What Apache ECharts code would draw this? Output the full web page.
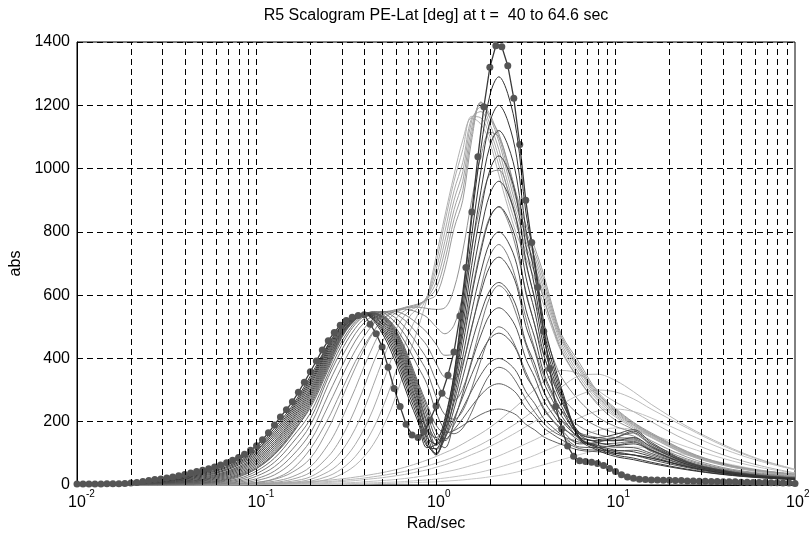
<!DOCTYPE html>
<html><head><meta charset="utf-8">
<script src="https://cdn.jsdelivr.net/npm/echarts@6/dist/echarts.min.js"></script>
<style>html,body{margin:0;padding:0;background:#fff}#chart{width:810px;height:541px}</style>
</head><body><div id="chart"></div>
<script>
// Frequency grid (Rad/sec) for the family of curves
const freq = [0.01,0.0158,0.0251,0.0398,0.0501,0.0631,0.0794,0.1,0.126,0.158,0.2,0.251,0.282,0.316,0.355,0.398,0.447,0.501,0.562,0.631,0.708,0.794,0.891,1,1.12,1.26,1.41,1.58,1.78,2,2.24,2.51,2.82,3.16,3.55,3.98,4.47,5.01,6.31,7.94,10,12.6,15.8,25.1,39.8,63.1,100];
// Fine grid of the last (marked) curve: 30 samples per decade
const freqFine = Array.from({length:121},(_,i)=>Math.pow(10,-2+i/30));

// Earliest curves (lightest)
const e1 = [0,0,0,0,0,0,0,0,0,1,1, 1,2,2,3,3,4,5,5,6,7,8,9,10, 12,14,16,19,22,26,30,35,41,48,56,64,72,80, 96,110,118,120,116,95,70,48,32];
const e2 = [0,0,0,0,0,0,0,1,1,1,2, 3,3,4,5,6,7,8,9,10,12,14,16,19, 22,26,30,35,41,48,56,64,73,83,94,106,118,130, 152,172,180,175,160,120,84,56,38];
const e3 = [0,0,0,0,0,0,1,1,2,2,3, 5,6,7,8,10,12,14,16,19,22,26,30,35, 41,47,54,62,71,81,92,104,117,130,143,157,171,185, 212,234,240,232,212,162,114,76,48];
const e4 = [0,0,0,0,0,1,1,2,3,4,5, 8,10,12,14,17,20,23,27,31,36,42,48,56, 64,74,84,96,108,122,136,151,167,184,201,219,237,255, 285,300,294,272,240,180,124,80,48];
const e5 = [0,0,0,0,1,1,2,3,4,6,8, 11,13,16,19,22,26,30,35,40,46,53,60,69, 78,89,101,114,128,144,160,178,196,216,238,262,287,310, 345,350,330,295,255,185,128,82,50];
const e6 = [0,0,0,1,1,2,3,4,6,8,11, 15,18,21,25,29,34,39,45,52,60,69,79,90, 102,115,130,146,163,182,203,226,250,276,302,328,350,362, 350,300,262,232,200,140,95,62,38];
// Light curves, peak near 1.6-1.8 rad/s
const p1 = [0,0,0,0,0,0,0,1,2,4,8, 18,28,42,62,90,128,178,240,320,410,495,590,720, 850,980,1090,1160,1140, 1080,980,880,790,720,650,570,490,420,330,260,215,180,150,95,62,42,30];
const p2 = [0,0,0,0,0,0,1,2,3,6,12, 28,42,62,90,128,178,240,315,400,480,540,595,700, 830,960,1060,1165,1160, 1100,1010,905,815,740,670,590,505,435,340,268,220,184,152,96,63,42,30];
const p3 = [0,0,0,0,0,1,1,2,4,8,18, 42,62,90,128,178,240,315,395,470,530,560,595,680, 800,930,1020,1160,1180, 1120,1035,930,835,755,690,605,520,445,350,275,225,188,155,98,64,43,31];
const p4 = [0,0,0,0,0,1,2,3,6,12,26, 62,90,128,178,240,315,390,460,515,550,565,595,660, 770,900,990,1150,1195, 1140,1060,955,855,770,705,620,530,455,360,280,230,190,158,100,65,44,32];
const p5 = [0,0,0,0,1,1,2,4,8,18,40, 90,128,178,240,310,385,450,505,540,558,567,590,640, 740,870,960,1130,1205, 1160,1085,980,875,790,720,635,540,462,368,285,234,193,160,102,66,45,33];
const p6 = [0,0,0,0,1,2,3,6,12,26,58, 128,178,240,305,375,440,495,532,552,562,570,588,620, 710,840,930,1110,1210, 1170,1100,1000,895,805,735,650,550,468,375,290,238,196,162,104,67,46,34];
const p7 = [0,0,0,1,1,2,4,8,18,40,85, 178,240,305,370,430,482,522,545,557,565,572,585,600, 680,810,900,1090,1210, 1160,1110,1015,915,825,750,665,560,475,385,295,242,198,165,106,68,47,35];
// Medium curves, trough near 1.1-1.3 rad/s, peak moving to 2.2 rad/s
const m1 = [0,0,0,0,1,2,4,8,20,50,115, 210,270,330,390,440,485,520,542,555,562,562,558, 555,560,620,740,900,1040,1115,1100,1020,910,790,690,590,500,425,330,255,205,175,140,88,55,38,27];
const m2 = [0,0,0,1,1,3,6,14,32,72,140, 250,310,370,425,470,508,535,550,556,554,545,530, 500,478,505,600,750,890,985,995,935,830,700,590,490,405,340,265,215,185,165,130,82,52,36,26];
const m3 = [0,0,1,1,2,4,9,20,44,92,165, 285,345,402,455,495,525,543,550,545,530,508,482, 445,410,415,480,610,750,850,878,835,740,615,505,410,335,280,220,185,165,155,122,78,50,34,25];
const m4 = [0,0,1,1,3,6,12,28,58,112,190, 318,378,430,478,513,536,548,546,532,508,475,440, 385,340,335,385,495,625,725,760,725,640,530,430,345,280,235,185,160,150,148,116,74,48,33,24];
const m5 = [0,1,1,2,4,8,16,36,72,132,210, 340,400,452,495,526,544,548,538,515,482,442,398, 330,280,268,305,395,505,595,630,605,535,445,365,295,240,205,165,150,145,145,112,70,46,32,23];
const m6 = [0,1,1,2,5,10,20,44,85,150,228, 352,415,467,508,534,547,545,527,496,455,408,358, 280,222,208,235,305,395,470,500,482,428,358,298,245,205,180,150,140,140,142,110,68,45,31,22];
const m7 = [0,1,2,3,6,12,25,52,98,165,245, 365,428,477,515,538,548,540,515,477,428,374,318, 232,175,162,180,230,298,350,372,360,322,272,230,195,170,155,135,130,132,138,106,66,44,30,22];
// Dark curves, hump at 0.4 rad/s, trough near 1 rad/s, peak at 2.2 rad/s
const d1 = [0,1,2,5,7,14,28,52,96,161,252,372,437,488,521, 542,544,536,512,465,400,325, 255,190,165,172, 188,206,223,235,240, 234,220,192,174,152,139,128, 110,105,100,95,85,60,40,28,20];
const d2 = [0,1,3,6,9,16,31,56,101,168,259,378,441,490,522, 542,544,535,509,460,393,317, 245,170,145,175, 210,249,285,311,320, 311,288,244,216,181,160,143, 115,110,108,110,95,62,40,27,19];
const d3 = [0,1,3,7,11,19,34,61,107,175,266,384,445,492,523, 542,543,533,506,455,386,309, 230,150,140,190, 243,298,349,387,400, 387,356,296,257,210,182,158, 120,118,125,135,110,66,42,28,20];
const d4 = [1,1,4,8,13,22,38,66,113,182,273,390,449,494,523, 543,543,531,502,449,378,300, 215,128,150,210, 278,349,415,463,480, 464,424,348,299,239,203,173, 130,135,150,165,125,70,44,29,21];
const d5 = [1,1,4,10,15,25,42,71,119,189,280,396,453,496,524, 543,542,529,498,443,370,292, 200,140,118,200, 290,388,474,539,560, 540,492,400,340,268,224,188, 140,125,120,118,100,62,40,27,20];
const d6 = [1,2,5,11,17,28,46,76,125,196,287,402,457,498,525, 543,541,526,493,436,361,283, 190,112,145,240, 340,448,544,616,640, 617,560,452,382,297,245,203, 150,140,150,170,130,72,45,30,22];
const d7 = [1,2,6,13,19,31,50,81,131,203,294,408,461,500,525, 543,539,522,487,428,352,274, 175,125,170,260, 375,499,609,692,720, 693,628,504,423,326,266,218, 145,120,105,95,80,55,36,25,18];
const d8 = [1,2,7,15,22,34,54,86,137,209,301,414,464,502,526, 543,537,518,481,420,343,265, 160,98,150,275, 406,548,674,768,800, 770,696,556,465,355,288,233, 160,150,160,175,135,74,46,30,22];
const d9 = [1,2,8,17,25,37,58,91,144,216,308,420,468,505,527, 542,535,513,474,411,333,255, 175,150,190,295, 442,599,739,845,880, 846,764,608,506,384,309,248, 150,125,110,105,90,58,38,26,19];
const d10 = [1,2,9,19,28,41,63,96,151,223,316,426,472,507,527, 542,532,508,466,401,322,245, 140,95,165,310, 472,648,804,921,960, 923,833,660,548,413,330,263, 165,145,140,150,120,70,44,29,21];
const d11 = [2,2,9,21,31,44,67,101,158,230,323,431,476,509,528, 542,530,502,457,390,311,235, 150,130,190,320, 500,694,867,997,1040, 999,900,710,586,438,347,273, 150,115,95,85,72,50,34,24,17];
const d12 = [2,3,10,23,34,48,71,106,165,237,330,436,480,511,529, 541,527,496,447,378,299,224, 128,100,180,330, 528,741,930,1073,1120, 1075,967,760,625,463,364,283, 160,135,125,130,110,65,42,28,20];
const d13 = [2,3,11,25,37,51,75,110,172,243,337,441,484,513,529, 541,524,489,436,365,285,212, 122,115,200,345, 556,788,994,1148,1200, 1151,1034,810,664,488,381,293, 145,110,90,80,68,48,33,23,17];
const d14 = [2,3,12,28,40,55,80,115,180,250,345,445,487,515,530, 540,520,480,423,350,270,200, 118,130,210,350, 585,839,1064,1234,1290, 1237,1110,866,707,516,400,304, 150,120,100,95,85,58,38,26,19];
// Last curve (t = 64.6 s), drawn with markers
const lastCurve = [3,3,3,3,3,4,4,4,5,6,
 8,11,14,17,19,22,25,29,33,38,
 43,47,51,57,63,70,78,87,97,110,
 124,143,165,190,215,238,263,293,325,358,
 392,427,456,482,505,520,530,536,538,508,
 478,436,372,305,248,192,158,150,168,205,
 250,290,347,420,534,687,863,1037,1195,1320,
 1388,1385,1325,1222,1076,900,766,625,486,368,
 248,177,123,91,77,74,72,68,62,52,
 43,32,25,21,18,17,16,16,15,15,
 14,14,13,13,12,12,11,11,10,10,
 10,9,9,8,8,8,7,7,6,6,
 5];
// Vertical grid lines (log decades and sub-decades)
const gridX = [0.02,0.03,0.04,0.05,0.06,0.07,0.08,0.09,0.1,0.2,0.3,0.4,0.5,0.6,0.7,0.8,0.9,1,2,3,4,5,6,7,8,9,10,20,30,40,50,60,70,80,90];

const curves = [e1,e2,e3,e4,e5,e6,p1,p2,p3,p4,p5,p6,p7,m1,m2,m3,m4,m5,m6,m7,
  d1,d2,d3,d4,d5,d6,d7,d8,d9,d10,d11,d12,d13,d14];
const palette = ['#c9c9c9','#c5c5c5','#c1c1c1','#bdbdbd','#b9b9b9','#b5b5b5',
 '#b2b2b2','#aeaeae','#aaaaaa','#a6a6a6','#a2a2a2','#9e9e9e','#9a9a9a',
 '#939393','#8c8c8c','#858585','#7e7e7e','#777777','#707070','#6a6a6a',
 '#646464','#606060','#5c5c5c','#585858','#545454','#505050','#4c4c4c',
 '#484848','#444444','#404040','#3c3c3c','#383838','#343434','#303030'];

const FONT = 'Liberation Sans, Arial, Helvetica, sans-serif';
const chart = echarts.init(document.getElementById('chart'), null, {renderer:'canvas'});

const series = [{
  type:'line', data:[], silent:true, z:1,
  markLine:{silent:true, animation:false, symbol:['none','none'], label:{show:false},
    lineStyle:{color:'#000', type:[6,4], width:1},
    emphasis:{disabled:true},
    data: gridX.map(v=>({xAxis:v}))}
}];
curves.forEach((vals,k)=>{
  series.push({type:'line', data: freq.map((f,i)=>[f,vals[i]]), symbol:'none', smooth:0.35,
    lineStyle:{color:palette[k], width:1}, silent:true, z:2});
});
series.push({type:'line', data: freqFine.map((f,i)=>[f,lastCurve[i]]), symbol:'circle', symbolSize:7,
  showAllSymbol:true, itemStyle:{color:'#555555'}, lineStyle:{color:'#3a3a3a', width:1.3}, silent:true, z:3});

chart.setOption({
  animation:false,
  backgroundColor:'#fff',
  title:{text:'R5 Scalogram PE-Lat [deg] at t =  40 to 64.6 sec', left:436, top:8, textAlign:'center', padding:0,
    textStyle:{fontFamily:FONT, fontSize:16, fontWeight:'normal', color:'#000'}},
  grid:{left:77, right:15, top:42, bottom:56, show:true, borderColor:'#000', borderWidth:1,
    backgroundColor:'#fff', containLabel:false, outerBoundsMode:'none'},
  xAxis:{type:'log', logBase:10, min:0.01, max:100,
    name:'Rad/sec', nameLocation:'middle', nameGap:30,
    nameTextStyle:{fontFamily:FONT, fontSize:16, color:'#000'},
    axisLine:{lineStyle:{color:'#000'}}, axisTick:{show:false}, splitLine:{show:false},
    axisLabel:{margin:4, color:'#000', fontFamily:FONT, hideOverlap:false,
      formatter:v=>{const e=Math.round(Math.log10(v)); return '{h|'+e+'}{b|10}{s|'+e+'}';},
      rich:{h:{fontSize:10, lineHeight:10, verticalAlign:'top', color:'rgba(0,0,0,0)', fontFamily:FONT},
            b:{fontSize:16, lineHeight:22, verticalAlign:'bottom', color:'#000', fontFamily:FONT},
            s:{fontSize:10, lineHeight:10, verticalAlign:'top', color:'#000', fontFamily:FONT}}}},
  yAxis:{type:'value', min:0, max:1400, interval:200,
    name:'abs', nameLocation:'middle', nameGap:52, nameRotate:90,
    nameTextStyle:{fontFamily:FONT, fontSize:16, color:'#000'},
    axisLine:{show:true, lineStyle:{color:'#000'}}, axisTick:{show:false},
    axisLabel:{fontFamily:FONT, fontSize:16, color:'#000', margin:7, formatter:v=>String(v)},
    splitLine:{show:true, lineStyle:{color:'#000', type:[6,4], width:1}}},
  series: series
});
</script></body></html>
